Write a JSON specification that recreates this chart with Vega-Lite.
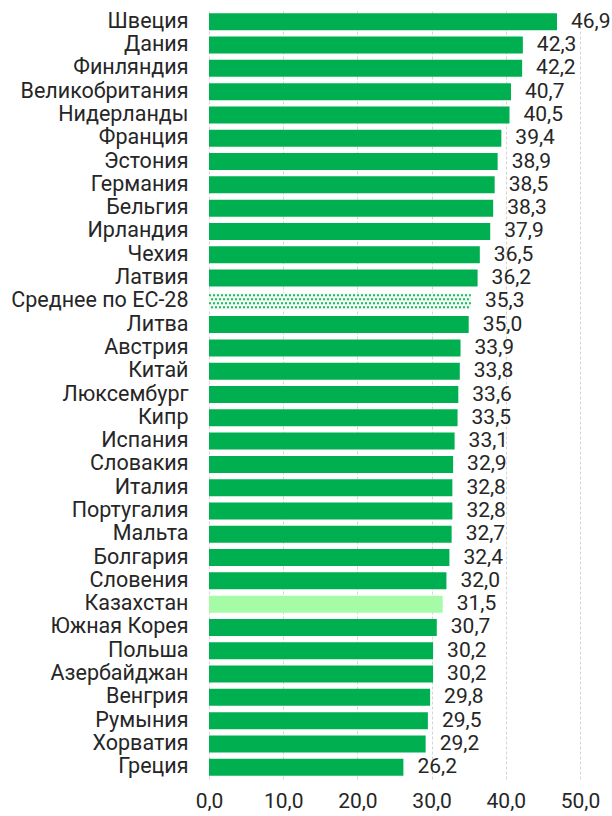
{
  "$schema": "https://vega.github.io/schema/vega-lite/v6.json",
  "width": 371,
  "height": 769,
  "autosize": "none",
  "padding": {"left": 209, "top": 10, "right": 32, "bottom": 37},
  "background": "white",
  "config": {
    "locale": {"number": {"decimal": ",", "thousands": " ", "grouping": [3], "currency": ["", ""]}},
    "view": {"stroke": null},
    "font": "Roboto"
  },
  "data": {
    "values": [
      {"country": "Швеция", "value": 46.9, "type": "n"},
      {"country": "Дания", "value": 42.3, "type": "n"},
      {"country": "Финляндия", "value": 42.2, "type": "n"},
      {"country": "Великобритания", "value": 40.7, "type": "n"},
      {"country": "Нидерланды", "value": 40.5, "type": "n"},
      {"country": "Франция", "value": 39.4, "type": "n"},
      {"country": "Эстония", "value": 38.9, "type": "n"},
      {"country": "Германия", "value": 38.5, "type": "n"},
      {"country": "Бельгия", "value": 38.3, "type": "n"},
      {"country": "Ирландия", "value": 37.9, "type": "n"},
      {"country": "Чехия", "value": 36.5, "type": "n"},
      {"country": "Латвия", "value": 36.2, "type": "n"},
      {"country": "Среднее по ЕС-28", "value": 35.3, "type": "avg"},
      {"country": "Литва", "value": 35.0, "type": "n"},
      {"country": "Австрия", "value": 33.9, "type": "n"},
      {"country": "Китай", "value": 33.8, "type": "n"},
      {"country": "Люксембург", "value": 33.6, "type": "n"},
      {"country": "Кипр", "value": 33.5, "type": "n"},
      {"country": "Испания", "value": 33.1, "type": "n"},
      {"country": "Словакия", "value": 32.9, "type": "n"},
      {"country": "Италия", "value": 32.8, "type": "n"},
      {"country": "Португалия", "value": 32.8, "type": "n"},
      {"country": "Мальта", "value": 32.7, "type": "n"},
      {"country": "Болгария", "value": 32.4, "type": "n"},
      {"country": "Словения", "value": 32.0, "type": "n"},
      {"country": "Казахстан", "value": 31.5, "type": "kz"},
      {"country": "Южная Корея", "value": 30.7, "type": "n"},
      {"country": "Польша", "value": 30.2, "type": "n"},
      {"country": "Азербайджан", "value": 30.2, "type": "n"},
      {"country": "Венгрия", "value": 29.8, "type": "n"},
      {"country": "Румыния", "value": 29.5, "type": "n"},
      {"country": "Хорватия", "value": 29.2, "type": "n"},
      {"country": "Греция", "value": 26.2, "type": "n"}
    ]
  },
  "encoding": {
    "y": {
      "field": "country", "type": "nominal",
      "sort": ["Швеция", "Дания", "Финляндия", "Великобритания", "Нидерланды", "Франция", "Эстония", "Германия", "Бельгия", "Ирландия", "Чехия", "Латвия", "Среднее по ЕС-28", "Литва", "Австрия", "Китай", "Люксембург", "Кипр", "Испания", "Словакия", "Италия", "Португалия", "Мальта", "Болгария", "Словения", "Казахстан", "Южная Корея", "Польша", "Азербайджан", "Венгрия", "Румыния", "Хорватия", "Греция"],
      "scale": {"paddingInner": 0.27, "paddingOuter": 0.14},
      "axis": {"title": null, "ticks": false, "domain": false, "labelFontSize": 21.5, "labelColor": "#262626", "labelPadding": 21, "labelFont": "Roboto"}
    },
    "x": {
      "field": "value", "type": "quantitative",
      "scale": {"domain": [0, 50], "nice": false},
      "axis": {"title": null, "values": [0, 10, 20, 30, 40, 50], "format": ".1f", "ticks": false, "domain": false, "labelFlush": false,
        "grid": true, "gridColor": "#d4d4d4", "gridDash": [3, 2], "labelFontSize": 21, "labelColor": "#262626", "labelPadding": 11, "labelFont": "Roboto"}
    }
  },
  "layer": [
    {
      "transform": [{"filter": "datum.type != 'avg'"}],
      "mark": {"type": "bar"},
      "encoding": {
        "color": {"field": "type", "type": "nominal", "legend": null,
          "scale": {"domain": ["n", "kz", "avg"], "range": ["#00b050", "#a6fca6", "#ffffff"]}}
      }
    },
    {
      "transform": [{"filter": "datum.type == 'avg'"}],
      "mark": {"type": "bar", "color": "#eefaf2"},
      "encoding": {}
    },
    {
      "transform": [{"filter": "datum.type == 'avg'"}],
      "mark": {"type": "rule", "color": "#1fbc62", "strokeWidth": 2, "strokeDash": [2, 2], "yOffset": -6},
      "encoding": {"x": {"datum": 0, "type": "quantitative"}, "x2": {"field": "value"}}
    },
    {
      "transform": [{"filter": "datum.type == 'avg'"}],
      "mark": {"type": "rule", "color": "#1fbc62", "strokeWidth": 2, "strokeDash": [2, 2], "strokeDashOffset": 2, "yOffset": -2},
      "encoding": {"x": {"datum": 0, "type": "quantitative"}, "x2": {"field": "value"}}
    },
    {
      "transform": [{"filter": "datum.type == 'avg'"}],
      "mark": {"type": "rule", "color": "#1fbc62", "strokeWidth": 2, "strokeDash": [2, 2], "yOffset": 2},
      "encoding": {"x": {"datum": 0, "type": "quantitative"}, "x2": {"field": "value"}}
    },
    {
      "transform": [{"filter": "datum.type == 'avg'"}],
      "mark": {"type": "rule", "color": "#1fbc62", "strokeWidth": 2, "strokeDash": [2, 2], "strokeDashOffset": 2, "yOffset": 6},
      "encoding": {"x": {"datum": 0, "type": "quantitative"}, "x2": {"field": "value"}}
    },
    {
      "mark": {"type": "text", "align": "left", "dx": 14, "fontSize": 21, "color": "#262626", "font": "Roboto"},
      "encoding": {"text": {"field": "value", "type": "quantitative", "format": ".1f"}}
    }
  ]
}
